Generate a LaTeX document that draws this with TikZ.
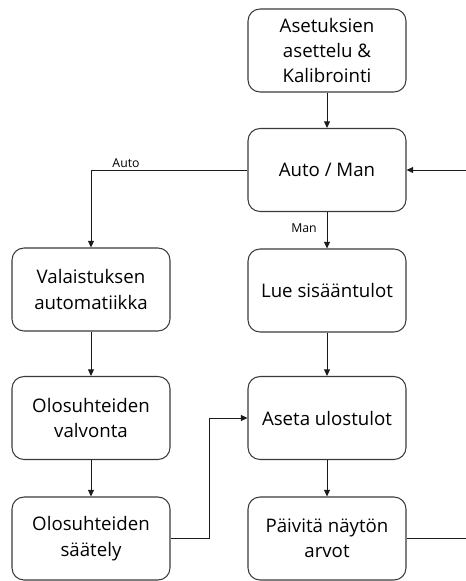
\documentclass[tikz,border=0pt]{standalone}
\usepackage{fontspec}
\setmainfont{Open Sans}
\usetikzlibrary{arrows.meta}
\definecolor{linec}{HTML}{1A1A1A}
\definecolor{boxc}{HTML}{3A3A3A}
\begin{document}
\begin{tikzpicture}[x=0.75pt,y=-0.75pt,
  box/.style={draw=boxc,line width=0.8pt,rounded corners=9pt,minimum width=118.5pt,minimum height=62.25pt,
    align=center,font=\fontsize{14}{19}\selectfont,text=black,inner sep=0pt},
  conn/.style={draw=linec,line width=0.75pt,-{Triangle[length=5pt,width=4.5pt]}},
  lbl/.style={font=\fontsize{9.2}{11}\selectfont,text=black,inner sep=1pt}]
\useasboundingbox (0,0) rectangle (465,581);
\node[box] (A) at (327,50.5) {Asetuksien\\asettelu \&\\Kalibrointi};
\node[box] (B) at (327,170) {Auto / Man};
\node[box] (C) at (91,289.5) {Valaistuksen\\automatiikka};
\node[box] (D) at (91,418) {Olosuhteiden\\valvonta};
\node[box] (E) at (91,538.5) {Olosuhteiden\\säätely};
\node[box] (F) at (327,290.5) {Lue sisääntulot};
\node[box] (G) at (327,418) {Aseta ulostulot};
\node[box] (H) at (327,538.5) {Päivitä näytön\\arvot};
\coordinate (autoc) at (91,170);
\coordinate (jog) at (209,538.5);
\coordinate (loopc) at (485,538.5);
\coordinate (autolbl) at (126,163);
\coordinate (manlbl) at (304,228);
\draw[conn] (A) -- (B);
\draw[conn] (B.west) -- (autoc) -- (C.north);
\node[lbl] at (autolbl) {Auto};
\draw[conn] (B) -- (F);
\node[lbl] at (manlbl) {Man};
\draw[conn] (F) -- (G);
\draw[conn] (G) -- (H);
\draw[conn] (C) -- (D);
\draw[conn] (D) -- (E);
\draw[conn] (E.east) -- (jog) |- (G.west);
\draw[conn] (H.east) -- (loopc) |- (B.east);
\end{tikzpicture}
\end{document}
